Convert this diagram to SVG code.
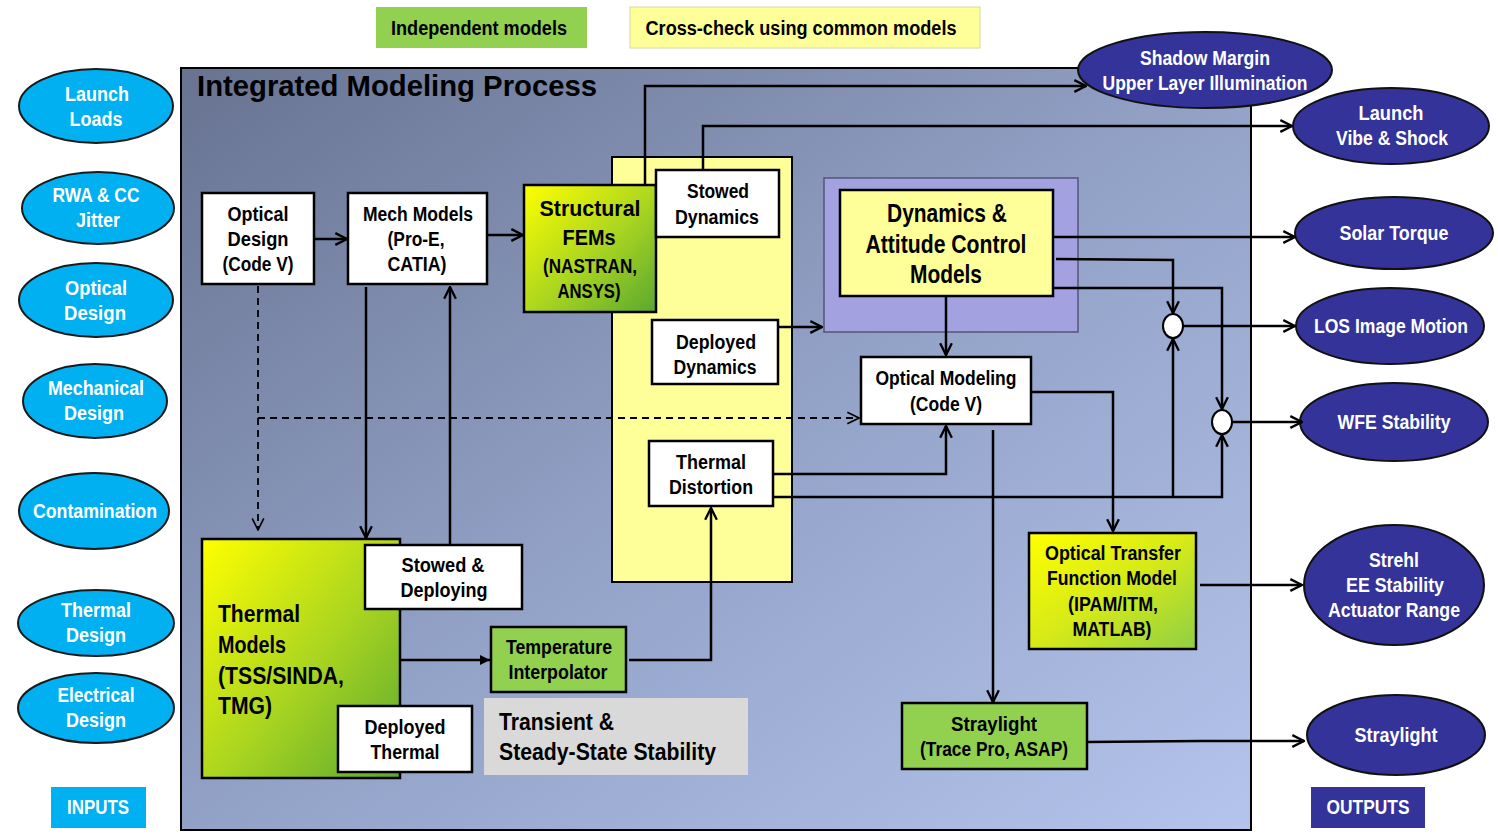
<svg xmlns="http://www.w3.org/2000/svg" width="1498" height="836" viewBox="0 0 1498 836">
<defs>
<linearGradient id="bg" x1="0" y1="0" x2="1" y2="1">
<stop offset="0" stop-color="#687391"/>
<stop offset="0.5" stop-color="#92a1c6"/>
<stop offset="1" stop-color="#b4c4ec"/>
</linearGradient>
<linearGradient id="yg" x1="0" y1="0" x2="1" y2="1">
<stop offset="0" stop-color="#ffff00"/>
<stop offset="0.55" stop-color="#a8d421"/>
<stop offset="1" stop-color="#5aa830"/>
</linearGradient>
<linearGradient id="yg2" x1="0" y1="0" x2="1" y2="1">
<stop offset="0" stop-color="#ffff00"/>
<stop offset="0.5" stop-color="#d6ea18"/>
<stop offset="1" stop-color="#8fcf45"/>
</linearGradient>
<marker id="ar" viewBox="0 0 12 12" refX="11" refY="6" markerWidth="14" markerHeight="14" markerUnits="userSpaceOnUse" orient="auto">
<path d="M1,1 L11,6 L1,11" fill="none" stroke="#000" stroke-width="2"/>
</marker>
<marker id="arf" viewBox="0 0 12 12" refX="11" refY="6" markerWidth="12" markerHeight="12" markerUnits="userSpaceOnUse" orient="auto">
<path d="M1,1 L11,6 L1,11 Z" fill="#000"/>
</marker>
<marker id="ard" viewBox="0 0 12 12" refX="11" refY="6" markerWidth="14" markerHeight="14" markerUnits="userSpaceOnUse" orient="auto">
<path d="M1,1 L11,6 L1,11" fill="none" stroke="#000" stroke-width="1.4"/>
</marker>
</defs>
<style>
text{font-family:"Liberation Sans",Arial,sans-serif;font-weight:bold;text-anchor:middle;font-size:20px;fill:#000}
.in ellipse{fill:#00b0f0;stroke:#1a1a1a;stroke-width:2}
.in text,.out text{fill:#fff}
.out ellipse{fill:#333399;stroke:#111;stroke-width:2}
.box{stroke:#000;stroke-width:2.5}
.w{fill:#fff}
.s22{font-size:22px}
.s24{font-size:24px}
.s25{font-size:25px}
.l{text-anchor:start}
.c path,.c line,.c polyline{fill:none;stroke:#000;stroke-width:2.5}
.c .dash{stroke-dasharray:7 5;stroke-width:1.8}
</style>

<!-- legend -->
<g id="legend-independent"><rect x="376" y="7" width="211" height="41" fill="#92d050"/><text x="479" y="35" textLength="176" lengthAdjust="spacingAndGlyphs">Independent models</text></g>
<g id="legend-crosscheck"><rect x="630" y="7" width="350" height="41" fill="#ffff99" stroke="#d8d8a0" stroke-width="1"/><text x="801" y="35" textLength="311" lengthAdjust="spacingAndGlyphs">Cross-check using common models</text></g>

<!-- main frame -->
<g id="frame"><rect x="181" y="68" width="1070" height="762" fill="url(#bg)" stroke="#000" stroke-width="2"/>
<text x="197" y="96" class="l" style="font-size:29px" textLength="400" lengthAdjust="spacingAndGlyphs">Integrated Modeling Process</text></g>

<!-- inputs -->
<g class="in">
<g id="in-launch"><ellipse cx="96" cy="106" rx="77" ry="37"/><text x="97" y="101" textLength="64" lengthAdjust="spacingAndGlyphs">Launch</text><text x="96" y="126" textLength="53" lengthAdjust="spacingAndGlyphs">Loads</text></g>
<g id="in-rwa"><ellipse cx="98" cy="208" rx="76" ry="36"/><text x="96" y="202" textLength="87" lengthAdjust="spacingAndGlyphs">RWA &amp; CC</text><text x="98" y="227" textLength="44" lengthAdjust="spacingAndGlyphs">Jitter</text></g>
<g id="in-optical"><ellipse cx="96" cy="300" rx="77" ry="37"/><text x="96" y="295" textLength="62" lengthAdjust="spacingAndGlyphs">Optical</text><text x="95" y="320" textLength="62" lengthAdjust="spacingAndGlyphs">Design</text></g>
<g id="in-mech"><ellipse cx="95" cy="401" rx="72" ry="37"/><text x="96" y="395" textLength="96" lengthAdjust="spacingAndGlyphs">Mechanical</text><text x="94" y="420" textLength="60" lengthAdjust="spacingAndGlyphs">Design</text></g>
<g id="in-contam"><ellipse cx="94" cy="511" rx="75" ry="38"/><text x="95" y="518" textLength="124" lengthAdjust="spacingAndGlyphs">Contamination</text></g>
<g id="in-thermal"><ellipse cx="96" cy="623" rx="78" ry="33"/><text x="96" y="617" textLength="70" lengthAdjust="spacingAndGlyphs">Thermal</text><text x="96" y="642" textLength="60" lengthAdjust="spacingAndGlyphs">Design</text></g>
<g id="in-elec"><ellipse cx="96" cy="708" rx="78" ry="35"/><text x="96" y="702" textLength="77" lengthAdjust="spacingAndGlyphs">Electrical</text><text x="96" y="727" textLength="60" lengthAdjust="spacingAndGlyphs">Design</text></g>
<g id="in-label"><rect x="51" y="787" width="95" height="41" fill="#00b0f0"/><text x="98" y="814" textLength="62" lengthAdjust="spacingAndGlyphs">INPUTS</text></g>
</g>

<!-- outputs -->
<g class="out">
<g id="out-shadow"><ellipse cx="1205" cy="70" rx="127" ry="38"/><text x="1205" y="65" textLength="130" lengthAdjust="spacingAndGlyphs">Shadow Margin</text><text x="1205" y="90" textLength="205" lengthAdjust="spacingAndGlyphs">Upper Layer Illumination</text></g>
<g id="out-launch"><ellipse cx="1391" cy="126" rx="98" ry="38"/><text x="1391" y="120" textLength="65" lengthAdjust="spacingAndGlyphs">Launch</text><text x="1392" y="145" textLength="112" lengthAdjust="spacingAndGlyphs">Vibe &amp; Shock</text></g>
<g id="out-solar"><ellipse cx="1394" cy="233" rx="99" ry="36"/><text x="1394" y="240" textLength="109" lengthAdjust="spacingAndGlyphs">Solar Torque</text></g>
<g id="out-los"><ellipse cx="1390" cy="326" rx="94" ry="38"/><text x="1391" y="333" textLength="154" lengthAdjust="spacingAndGlyphs">LOS Image Motion</text></g>
<g id="out-wfe"><ellipse cx="1394" cy="422" rx="94" ry="39"/><text x="1394" y="429" textLength="113" lengthAdjust="spacingAndGlyphs">WFE Stability</text></g>
<g id="out-strehl"><ellipse cx="1394" cy="585" rx="90" ry="60"/><text x="1394" y="567" textLength="50" lengthAdjust="spacingAndGlyphs">Strehl</text><text x="1395" y="592" textLength="98" lengthAdjust="spacingAndGlyphs">EE Stability</text><text x="1394" y="617" textLength="132" lengthAdjust="spacingAndGlyphs">Actuator Range</text></g>
<g id="out-stray"><ellipse cx="1396" cy="735" rx="89" ry="40"/><text x="1396" y="742" textLength="83" lengthAdjust="spacingAndGlyphs">Straylight</text></g>
<g id="out-label"><rect x="1311" y="787" width="114" height="41" fill="#333399"/><text x="1368" y="814" textLength="83" lengthAdjust="spacingAndGlyphs">OUTPUTS</text></g>
</g>

<!-- containers -->
<g id="yellow-column"><rect x="612" y="157" width="180" height="425" fill="#ffff99" stroke="#000" stroke-width="2"/></g>
<g id="purple-box"><rect x="824" y="178" width="254" height="154" fill="#a3a1e0" stroke="#555577" stroke-width="1.5"/></g>

<!-- nodes -->
<g id="optical-design"><rect class="box w" x="202" y="193" width="112" height="91"/><text x="258" y="221" textLength="61" lengthAdjust="spacingAndGlyphs">Optical</text><text x="258" y="246" textLength="61" lengthAdjust="spacingAndGlyphs">Design</text><text x="258" y="271" textLength="71" lengthAdjust="spacingAndGlyphs">(Code V)</text></g>
<g id="mech-models"><rect class="box w" x="348" y="193" width="139" height="91"/><text x="418" y="221" textLength="110" lengthAdjust="spacingAndGlyphs">Mech Models</text><text x="416" y="246" textLength="57" lengthAdjust="spacingAndGlyphs">(Pro-E,</text><text x="417" y="271" textLength="59" lengthAdjust="spacingAndGlyphs">CATIA)</text></g>
<g id="structural-fems"><rect class="box" x="524" y="185" width="132" height="127" fill="url(#yg)"/><text x="590" y="216" class="s22" textLength="101" lengthAdjust="spacingAndGlyphs">Structural</text><text x="589" y="245" class="s22" textLength="53" lengthAdjust="spacingAndGlyphs">FEMs</text><text x="590" y="273" textLength="94" lengthAdjust="spacingAndGlyphs">(NASTRAN,</text><text x="589" y="298" textLength="63" lengthAdjust="spacingAndGlyphs">ANSYS)</text></g>
<g id="stowed-dynamics"><rect class="box w" x="656" y="170" width="123" height="67"/><text x="718" y="198" textLength="62" lengthAdjust="spacingAndGlyphs">Stowed</text><text x="717" y="224" textLength="84" lengthAdjust="spacingAndGlyphs">Dynamics</text></g>
<g id="deployed-dynamics"><rect class="box w" x="652" y="320" width="126" height="64"/><text x="716" y="349" textLength="80" lengthAdjust="spacingAndGlyphs">Deployed</text><text x="715" y="374" textLength="83" lengthAdjust="spacingAndGlyphs">Dynamics</text></g>
<g id="thermal-distortion"><rect class="box w" x="649" y="441" width="124" height="65"/><text x="711" y="469" textLength="70" lengthAdjust="spacingAndGlyphs">Thermal</text><text x="711" y="494" textLength="84" lengthAdjust="spacingAndGlyphs">Distortion</text></g>
<g id="dynamics-acs"><rect class="box" x="840" y="190" width="213" height="106" fill="#ffff99"/><text x="947" y="222" class="s25" textLength="120" lengthAdjust="spacingAndGlyphs">Dynamics &amp;</text><text x="946" y="253" class="s25" textLength="161" lengthAdjust="spacingAndGlyphs">Attitude Control</text><text x="946" y="283" class="s25" textLength="72" lengthAdjust="spacingAndGlyphs">Models</text></g>
<g id="optical-modeling"><rect class="box w" x="861" y="357" width="170" height="67"/><text x="946" y="385" textLength="141" lengthAdjust="spacingAndGlyphs">Optical Modeling</text><text x="946" y="411" textLength="72" lengthAdjust="spacingAndGlyphs">(Code V)</text></g>
<g id="otf-model"><rect class="box" x="1029" y="533" width="167" height="116" fill="url(#yg2)"/><text x="1113" y="560" textLength="136" lengthAdjust="spacingAndGlyphs">Optical Transfer</text><text x="1112" y="585" textLength="130" lengthAdjust="spacingAndGlyphs">Function Model</text><text x="1113" y="611" textLength="90" lengthAdjust="spacingAndGlyphs">(IPAM/ITM,</text><text x="1112" y="636" textLength="79" lengthAdjust="spacingAndGlyphs">MATLAB)</text></g>
<g id="straylight-model"><rect class="box" x="902" y="703" width="185" height="66" fill="#92d050"/><text x="994" y="731" textLength="86" lengthAdjust="spacingAndGlyphs">Straylight</text><text x="994" y="756" textLength="148" lengthAdjust="spacingAndGlyphs">(Trace Pro, ASAP)</text></g>
<g id="thermal-models"><rect class="box" x="202" y="539" width="198" height="239" fill="url(#yg)"/><text x="218" y="622" class="s24 l" textLength="82" lengthAdjust="spacingAndGlyphs">Thermal</text><text x="218" y="653" class="s24 l" textLength="68" lengthAdjust="spacingAndGlyphs">Models</text><text x="218" y="684" class="s24 l" textLength="126" lengthAdjust="spacingAndGlyphs">(TSS/SINDA,</text><text x="218" y="714" class="s24 l" textLength="54" lengthAdjust="spacingAndGlyphs">TMG)</text></g>
<g id="stowed-deploying"><rect class="box w" x="365" y="545" width="157" height="64"/><text x="443" y="572" textLength="83" lengthAdjust="spacingAndGlyphs">Stowed  &amp;</text><text x="444" y="597" textLength="87" lengthAdjust="spacingAndGlyphs">Deploying</text></g>
<g id="deployed-thermal"><rect class="box w" x="338" y="706" width="134" height="66"/><text x="405" y="734" textLength="81" lengthAdjust="spacingAndGlyphs">Deployed</text><text x="405" y="759" textLength="69" lengthAdjust="spacingAndGlyphs">Thermal</text></g>
<g id="temp-interp"><rect class="box" x="491" y="627" width="135" height="65" fill="#92d050"/><text x="559" y="654" textLength="106" lengthAdjust="spacingAndGlyphs">Temperature</text><text x="558" y="679" textLength="99" lengthAdjust="spacingAndGlyphs">Interpolator</text></g>
<g id="transient"><rect x="484" y="698" width="264" height="77" fill="#d9d9d9"/><text x="499" y="730" class="s24 l" textLength="115" lengthAdjust="spacingAndGlyphs">Transient &amp;</text><text x="499" y="760" class="s24 l" textLength="217" lengthAdjust="spacingAndGlyphs">Steady-State Stability</text></g>

<!-- summing junctions -->
<g id="junction-los"><ellipse cx="1173" cy="326" rx="10" ry="12" fill="#fff" stroke="#000" stroke-width="2"/></g>
<g id="junction-wfe"><ellipse cx="1222" cy="422" rx="10" ry="12" fill="#fff" stroke="#000" stroke-width="2"/></g>

<!-- connectors -->
<g id="connectors" class="c">
<line x1="314" y1="239" x2="347" y2="239" marker-end="url(#ar)"/>
<line x1="487" y1="235" x2="523" y2="235" marker-end="url(#ar)"/>
<line x1="366" y1="287" x2="366" y2="538" marker-end="url(#ar)"/>
<line x1="450" y1="545" x2="450" y2="287" marker-end="url(#ar)"/>
<line class="dash" x1="258" y1="286" x2="258" y2="530" marker-end="url(#ard)"/>
<line class="dash" x1="258" y1="418" x2="859" y2="418" marker-end="url(#ard)"/>
<polyline points="645,185 645,86 1086,86" marker-end="url(#ar)"/>
<polyline points="703,170 703,126 1292,126" marker-end="url(#ar)"/>
<line x1="778" y1="327" x2="822" y2="327" marker-end="url(#ar)"/>
<line x1="1053" y1="237" x2="1295" y2="237" marker-end="url(#ar)"/>
<polyline points="1056,259 1173,260 1173,313" marker-end="url(#ar)"/>
<polyline points="1053,288 1222,288 1222,409" marker-end="url(#ar)"/>
<line x1="946" y1="296" x2="946" y2="355" marker-end="url(#ar)"/>
<line x1="1183" y1="326" x2="1295" y2="326" marker-end="url(#ar)"/>
<line x1="1232" y1="422" x2="1302" y2="422" marker-end="url(#ar)"/>
<polyline points="773,474 946,474 946,426" marker-end="url(#ar)"/>
<polyline points="773,497 1222,497 1222,435" marker-end="url(#ar)"/>
<line x1="1173" y1="497" x2="1173" y2="339" marker-end="url(#ar)"/>
<polyline points="1031,392 1113,392 1113,531" marker-end="url(#ar)"/>
<line x1="993" y1="430" x2="993" y2="702" marker-end="url(#ar)"/>
<line x1="1200" y1="585" x2="1302" y2="585" marker-end="url(#ar)"/>
<polyline points="1087,742 1200,741 1304,741" marker-end="url(#ar)"/>
<line x1="400" y1="660" x2="490" y2="660" marker-end="url(#arf)"/>
<polyline points="629,660 711,660 711,508" marker-end="url(#ar)"/>
</g>
</svg>
